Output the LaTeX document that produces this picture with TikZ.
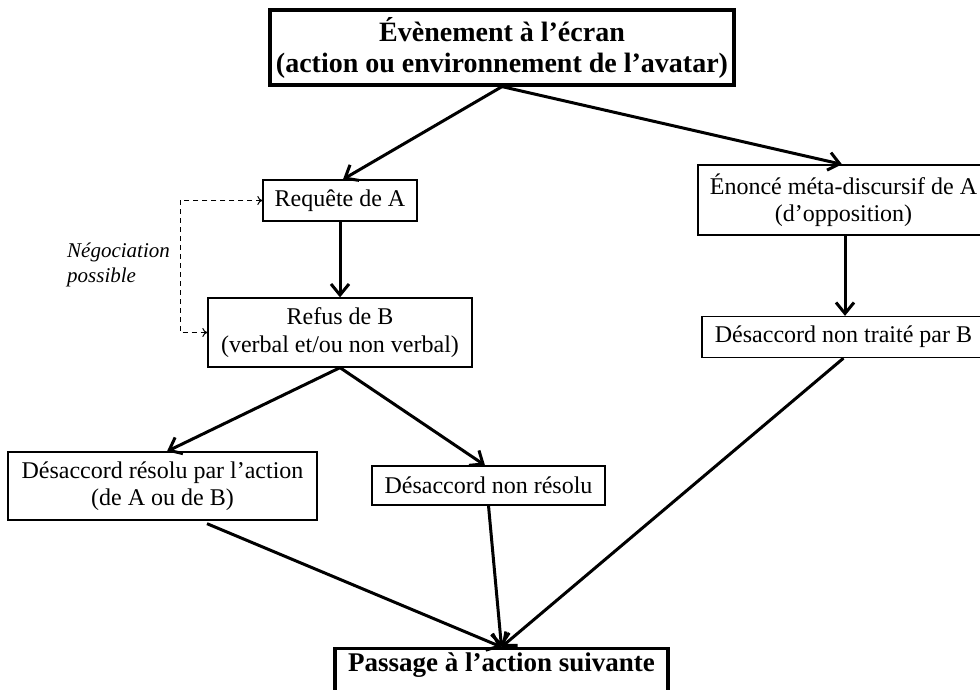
\documentclass[tikz,border=0pt]{standalone}
\usepackage{fontspec}
\setmainfont{Liberation Serif}
\usetikzlibrary{arrows.meta}
\tikzset{
  box/.style={draw, line width=1.3pt, inner sep=0pt, align=center, font=\fontsize{24}{27.5}\selectfont},
  bigbox/.style={draw, line width=3.2pt, inner sep=0pt, align=center, font=\bfseries\fontsize{28}{31}\selectfont},
  flow/.style={line width=3pt, -{Straight Barb[length=11pt,width=18pt]}},
  nego/.style={dash pattern=on 5pt off 4pt, line width=1pt, {To[length=5pt,width=9pt]}-{To[length=5pt,width=9pt]}},
  negolab/.style={inner sep=0pt, align=left, font=\itshape\fontsize{21}{25}\selectfont}
}
\begin{document}
\begin{tikzpicture}[x=1pt,y=-1pt]
\useasboundingbox (0,0) rectangle (980,689);
\clip (0,0) rectangle (980,689);
\node[bigbox, minimum width=464pt, minimum height=75pt] (top) at (502,47.5) {Évènement à l’écran\\(action ou environnement de l’avatar)};
\node[box, minimum width=154pt, minimum height=41pt] (req) at (340,200.5) {Requête de A};
\node[box, minimum width=264pt, minimum height=69pt] (refus) at (340,332.5) {Refus de B\\(verbal et/ou non verbal)};
\node[box, minimum width=291pt, minimum height=70pt] (enonce) at (843.5,200) {Énoncé méta-discursif de A\\(d’opposition)};
\node[box, minimum width=283pt, minimum height=41pt] (nontraite) at (843.5,337) {Désaccord non traité par B};
\node[box, minimum width=309pt, minimum height=68pt] (resolu) at (162.5,486) {Désaccord résolu par l’action\\(de A ou de B)};
\node[box, minimum width=233pt, minimum height=39pt] (nonres) at (488.5,485.5) {Désaccord non résolu};
\node[bigbox, font=\bfseries\fontsize{27}{30}\selectfont, anchor=north, minimum width=333pt, inner ysep=5pt, text height=18pt, text depth=32pt] (passage) at (501.5,647) {Passage à l’action suivante};
\node[negolab, anchor=west] (negolabel) at (67,265) {Négociation\\possible};
\coordinate (nbend) at (180,200.5);
\draw[nego] (req.west) -- (nbend) |- (refus.west);
\draw[flow] (top.south) -- ([xshift=3pt]req.north);
\draw[flow] (top.south) -- ([xshift=-1.5pt]enonce.north);
\draw[flow] (req.south) -- (refus.north);
\draw[flow] ([xshift=1.5pt]enonce.south) -- ([xshift=1.5pt]nontraite.north);
\draw[flow] (refus.south) -- ([xshift=4.5pt]resolu.north);
\draw[flow] (refus.south) -- ([xshift=-3.5pt]nonres.north);
\draw[flow] ([xshift=44.5pt,yshift=-3pt]resolu.south) -- (passage.north);
\draw[flow] (nonres.south) -- (passage.north);
\draw[flow] (nontraite.south) -- (passage.north);
\end{tikzpicture}
\end{document}
